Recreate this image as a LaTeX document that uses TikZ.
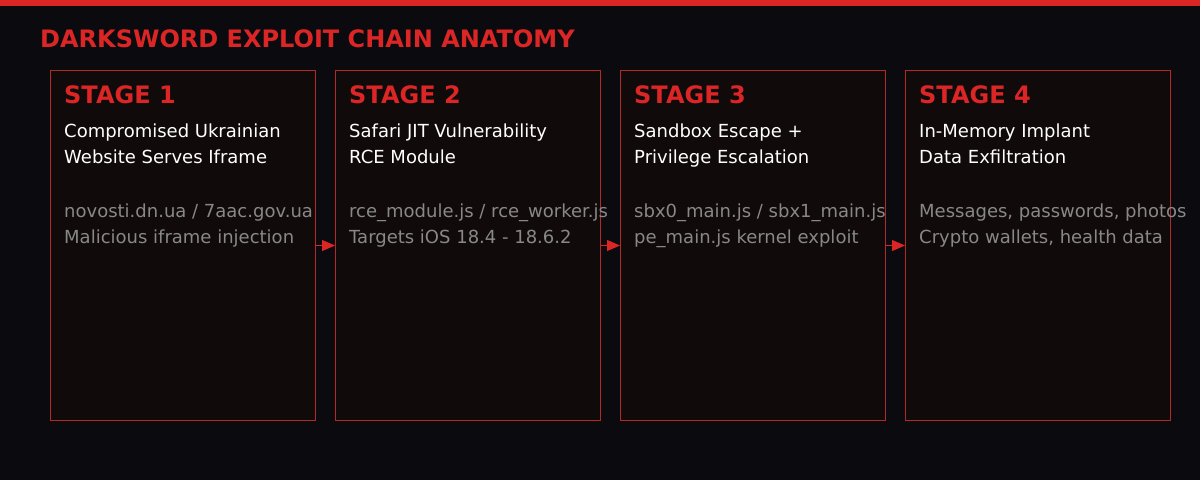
\documentclass[tikz,border=0pt]{standalone}
\usepackage{fontspec}
\setmainfont{DejaVu Sans}
\usetikzlibrary{positioning,arrows.meta}
\definecolor{swordbg}{RGB}{10,10,15}
\definecolor{swordbox}{RGB}{16,10,10}
\definecolor{swordred}{RGB}{220,38,38}
\definecolor{swordedge}{RGB}{180,40,40}
\definecolor{swordgrey}{RGB}{136,136,136}
\tikzset{
    stagebox/.style={rectangle, draw=swordedge, fill=swordbox, line width=1pt, minimum width=265pt, minimum height=350pt, anchor=north west, inner sep=0pt},
    stagehead/.style={anchor=base west, inner sep=0pt, text=swordred, font=\fontsize{24}{28}\selectfont\bfseries},
    stagetitle/.style={anchor=base west, inner sep=0pt, text=white, align=left, font=\fontsize{18}{26}\selectfont},
    stagenote/.style={anchor=base west, inner sep=0pt, text=swordgrey, align=left, font=\fontsize{18}{26}\selectfont},
    flow/.style={draw=swordred, line width=1pt, -{Triangle[length=13pt,width=11pt]}}
}
\begin{document}
\begin{tikzpicture}[x=1pt, y=-1pt]
    % Canvas and top bar
    \useasboundingbox (0,0) rectangle (1200,480);
    \fill [swordbg] (0,0) rectangle (1200,480);
    \fill [swordred] (0,0) rectangle (1200,6);

    % Title
    \node [stagehead] (title) at (40,47) {DARKSWORD EXPLOIT CHAIN ANATOMY};

    % Stage 1
    \node [stagebox] (s1) at (50,70) {};
    \node [stagehead] (h1) at ([shift={(14,33)}]s1.north west) {STAGE 1};
    \node [stagetitle] (t1) at ([shift={(14,93)}]s1.north west) {Compromised Ukrainian\\Website Serves Iframe};
    \node [stagenote] (n1) at ([shift={(14,173)}]s1.north west) {novosti.dn.ua / 7aac.gov.ua\\Malicious iframe injection};

    % Stage 2
    \node [stagebox] (s2) at (335,70) {};
    \node [stagehead] (h2) at ([shift={(14,33)}]s2.north west) {STAGE 2};
    \node [stagetitle] (t2) at ([shift={(14,93)}]s2.north west) {Safari JIT Vulnerability\\RCE Module};
    \node [stagenote] (n2) at ([shift={(14,173)}]s2.north west) {rce\_module.js / rce\_worker.js\\Targets iOS 18.4 - 18.6.2};

    % Stage 3
    \node [stagebox] (s3) at (620,70) {};
    \node [stagehead] (h3) at ([shift={(14,33)}]s3.north west) {STAGE 3};
    \node [stagetitle] (t3) at ([shift={(14,93)}]s3.north west) {Sandbox Escape +\\Privilege Escalation};
    \node [stagenote] (n3) at ([shift={(14,173)}]s3.north west) {sbx0\_main.js / sbx1\_main.js\\pe\_main.js kernel exploit};

    % Stage 4
    \node [stagebox] (s4) at (905,70) {};
    \node [stagehead] (h4) at ([shift={(14,33)}]s4.north west) {STAGE 4};
    \node [stagetitle] (t4) at ([shift={(14,93)}]s4.north west) {In-Memory Implant\\Data Exfiltration};
    \node [stagenote] (n4) at ([shift={(14,173)}]s4.north west) {Messages, passwords, photos\\Crypto wallets, health data};

    % Connections
    \path [flow] (s1) -- (s2);
    \path [flow] (s2) -- (s3);
    \path [flow] (s3) -- (s4);
\end{tikzpicture}
\end{document}
